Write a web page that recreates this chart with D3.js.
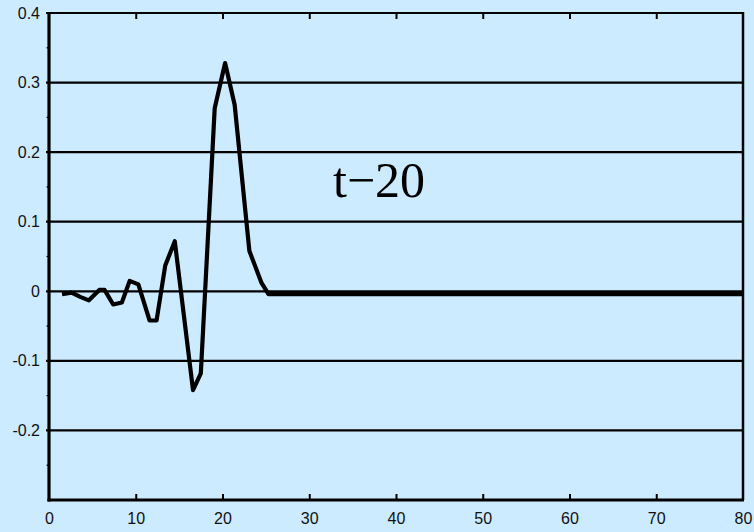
<!DOCTYPE html>
<html>
<head>
<meta charset="utf-8">
<script src="https://cdn.jsdelivr.net/npm/d3@7"></script>
<style>
  html, body { margin: 0; padding: 0; background: #cdebff; }
  svg { display: block; }
</style>
</head>
<body>
<svg id="chart" width="754" height="532"></svg>
<script>
// Data
const xValues = [1.5, 2.6, 3.6, 4.6, 5.8, 6.4, 7.4, 8.4, 9.3, 10.3, 11.6, 12.4, 13.4, 14.5, 16.6, 17.5, 19.1, 20.3, 21.4, 23.1, 24.5, 25.3, 80];
const yValues = [-0.004, -0.002, -0.008, -0.013, 0.002, 0.002, -0.019, -0.016, 0.015, 0.010, -0.042, -0.042, 0.037, 0.072, -0.142, -0.118, 0.263, 0.328, 0.268, 0.058, 0.012, -0.004, -0.004];
const xTicks = [0, 10, 20, 30, 40, 50, 60, 70, 80];
const yTicks = [-0.2, -0.1, 0, 0.1, 0.2, 0.3, 0.4];
const yTickLabels = ["-0.2", "-0.1", "0", "0.1", "0.2", "0.3", "0.4"];
const yGrid = [-0.2, -0.1, 0, 0.1, 0.2, 0.3, 0.4];
const yMinor = [-0.25, -0.15, -0.05, 0.05, 0.15, 0.25, 0.35];
const labelText = "t\u221220";

const svg = d3.select("#chart");
const W = 754, H = 532;
svg.append("rect").attr("width", W).attr("height", H).attr("fill", "#cdebff");

const x = d3.scaleLinear().domain([0, 80]).range([49, 743]);
const y = d3.scaleLinear().domain([-0.3, 0.4]).range([500, 13]);

// horizontal grid lines
svg.append("g").selectAll("line").data(yGrid).join("line")
  .attr("x1", x(0) - 3).attr("x2", x(80))
  .attr("y1", d => y(d)).attr("y2", d => y(d))
  .attr("stroke", "#000").attr("stroke-width", 2.2);

// minor ticks on left
svg.append("g").selectAll("line").data(yMinor).join("line")
  .attr("x1", x(0) - 2.5).attr("x2", x(0))
  .attr("y1", d => y(d)).attr("y2", d => y(d))
  .attr("stroke", "#000").attr("stroke-width", 1.2);

// bottom axis (ticks inward)
const xAxis = d3.axisBottom(x).tickValues(xTicks).tickSize(-6).tickPadding(13).tickFormat(d3.format("d"));
const gx = svg.append("g").attr("transform", `translate(0,${y(-0.3)})`).call(xAxis);
gx.select(".domain").remove();
gx.selectAll(".tick line").attr("stroke", "#000").attr("stroke-width", 2)
  .filter(d => d === 0 || d === 80).remove();
gx.selectAll("text").attr("font-family", "Liberation Sans, Arial, sans-serif")
  .attr("font-size", 16).attr("fill", "#111");

// top ticks (inward)
const xTop = d3.axisTop(x).tickValues(xTicks.filter(d => d > 0 && d < 80)).tickSize(-6).tickFormat("");
const gt = svg.append("g").attr("transform", `translate(0,${y(0.4)})`).call(xTop);
gt.select(".domain").remove();
gt.selectAll(".tick line").attr("stroke", "#000").attr("stroke-width", 2);

// left axis labels
const yAxis = d3.axisLeft(y).tickValues(yTicks).tickSize(0).tickPadding(9)
  .tickFormat((d, i) => yTickLabels[i]);
const gy = svg.append("g").attr("transform", `translate(${x(0)},0)`).call(yAxis);
gy.select(".domain").remove();
gy.selectAll("text").attr("font-family", "Liberation Sans, Arial, sans-serif")
  .attr("font-size", 16).attr("fill", "#111");

// frame lines
svg.append("line").attr("x1", x(0)).attr("x2", x(0)).attr("y1", y(0.4) - 1).attr("y2", y(-0.3) + 1.5)
  .attr("stroke", "#000").attr("stroke-width", 3.2);
svg.append("line").attr("x1", x(0) - 1.5).attr("x2", x(80) + 1).attr("y1", y(-0.3)).attr("y2", y(-0.3))
  .attr("stroke", "#000").attr("stroke-width", 3.2);
svg.append("line").attr("x1", x(80)).attr("x2", x(80)).attr("y1", y(0.4) - 1).attr("y2", y(-0.3))
  .attr("stroke", "#000").attr("stroke-width", 2.5);

// data line
const pts = xValues.map((d, i) => [d, yValues[i]]);
svg.append("path").datum(pts)
  .attr("d", d3.line().x(d => x(d[0])).y(d => y(d[1])))
  .attr("fill", "none").attr("stroke", "#000").attr("stroke-width", 4.2)
  .attr("stroke-linejoin", "round");

// label
svg.append("text").attr("x", 333).attr("y", 197)
  .attr("font-family", "Liberation Serif, Times New Roman, serif")
  .attr("font-size", 50).attr("fill", "#000").text(labelText);
</script>
</body>
</html>
